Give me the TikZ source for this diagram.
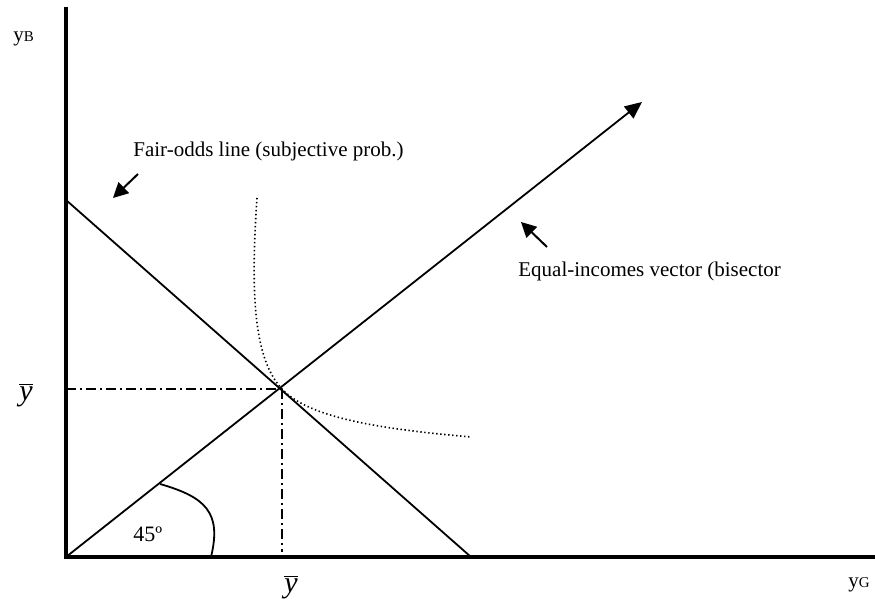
\documentclass[tikz,border=0pt]{standalone}
\usepackage{fontspec}
\setmainfont{Liberation Serif}
\usetikzlibrary{arrows.meta}

\begin{document}
\begin{tikzpicture}[x=0.5pt, y=-0.5pt,
    every node/.style={font=\fontsize{10.5}{12}\selectfont, inner sep=0pt},
    axis/.style={line width=1.9pt, line join=miter},
    budget/.style={line width=0.9pt},
    guide/.style={line width=0.9pt, dash pattern=on 5pt off 2pt on 1pt off 2pt},
    indiff/.style={line width=0.8pt, dash pattern=on 0.7pt off 1.3pt},
    pointer/.style={line width=1pt, -{Triangle[length=7.5pt, width=7.5pt]}}]

    \useasboundingbox (0,0) rectangle (875,603);

    % axes
    \coordinate (O) at (66,557);
    \coordinate (ytop) at (66,7);
    \coordinate (xend) at (875,557);
    \draw[axis] (ytop) -- (O) -- (xend);
    \node[anchor=base west] (yB) at (13,42) {y{\fontsize{7.5}{9}\selectfont B}};
    \node[anchor=base west] (yG) at (848,588) {y{\fontsize{7.5}{9}\selectfont G}};

    % fair-odds line and bisector
    \coordinate (E) at (282,389);
    \coordinate (fo0) at (66,200);
    \coordinate (fo1) at (471,557);
    \coordinate (bis) at (642,102);
    \draw[budget] (fo0) -- (fo1);
    \draw[budget, -{Triangle[length=8.5pt, width=7.5pt]}] (O) -- (bis);

    % certainty income
    \coordinate (Ey) at (66,389);
    \coordinate (Ex) at (282,552);
    \draw[guide] (Ey) -- (E);
    \draw[guide] (E) -- (Ex);
    \node[font=\fontsize{15}{17}\selectfont] (ybarL) at (26,395) {$\overline{\textit{y}}$};
    \node[font=\fontsize{15}{17}\selectfont] (ybarB) at (291,587) {$\overline{\textit{y}}$};

    % indifference curve
    \coordinate (ic0) at (257,198);
    \coordinate (ic1) at (471,437);
    \draw[indiff] (ic0) .. controls (250,300) and (255,360) .. (E)
        .. controls (309,418) and (380,429) .. (ic1);

    % 45 degree angle
    \coordinate (a0) at (160,484);
    \coordinate (a1) at (211,557);
    \draw[budget] (a0) .. controls (205,497) and (222,512) .. (a1);
    \node[anchor=base west, font=\fontsize{11}{13}\selectfont] (deg) at (133,542) {45º};

    % labels with pointers
    \node[anchor=base west] (fairlbl) at (133,157) {Fair-odds line (subjective prob.)};
    \coordinate (p0) at (138,174);
    \coordinate (p1) at (113,198);
    \draw[pointer] (p0) -- (p1);

    \node[anchor=base west] (bislbl) at (518,277) {Equal-incomes vector (bisector};
    \coordinate (q0) at (547,247);
    \coordinate (q1) at (521,222);
    \draw[pointer] (q0) -- (q1);

\end{tikzpicture}
\end{document}
